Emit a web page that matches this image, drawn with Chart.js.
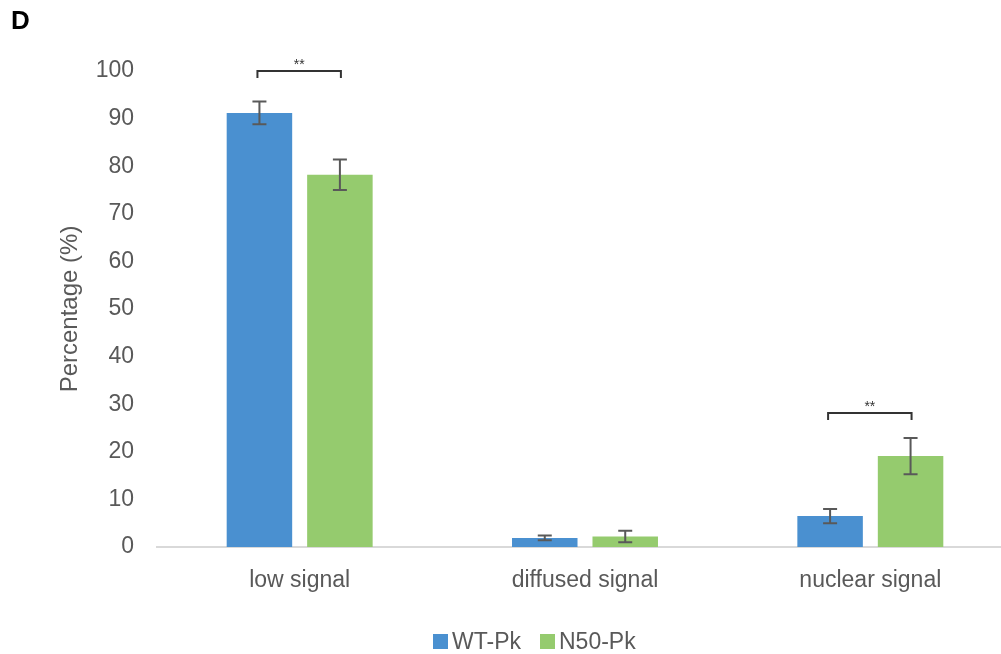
<!DOCTYPE html>
<html>
<head>
<meta charset="utf-8">
<script src="https://cdn.jsdelivr.net/npm/chart.js@4.4.1/dist/chart.umd.min.js"></script>
<style>
  html, body { margin: 0; padding: 0; background: #fff; overflow: hidden; width: 1001px; height: 654px; }
  #wrap { position: relative; width: 1015px; height: 654px; }
  #panel { position: absolute; left: 11px; top: 5px; font: bold 26px "Liberation Sans", Arial, sans-serif; color: #000; }
  #legend { position: absolute; top: 627px; left: 433px; height: 28px; font: 23px "Liberation Sans", Arial, sans-serif; color: #595959; display: flex; align-items: center; }
  #legend .item { display: flex; align-items: center; margin-right: 19px; }
  #legend .sw { width: 15px; height: 15px; margin-right: 4px; }
</style>
</head>
<body>
<div id="wrap">
  <canvas id="c" width="1015" height="654"></canvas>
  <div id="panel">D</div>
  <div id="legend"></div>
</div>
<script>
// Categories and measured percentages (mean ± error)
const categories = ['low signal', 'diffused signal', 'nuclear signal'];
const seriesNames = ['WT-Pk', 'N50-Pk'];
const seriesColors = ['#4A90D0', '#95CB6E'];
const wtValues  = [91.2, 1.9, 6.5];
const wtErrors  = [2.4, 0.5, 1.5];
const n50Values = [78.2, 2.2, 19.1];
const n50Errors = [3.2, 1.2, 3.8];
const yMin = 0, yMax = 100, yStep = 10;

// Significance brackets: category index, bracket height (%), label
const sigIndex = [0, 2];
const sigLevel = [100.1, 28.2];
const sigLabel = ['**', '**'];

const textColor = '#595959';
const fontFamily = '"Liberation Sans", Arial, sans-serif';

// HTML legend
const legendEl = document.getElementById('legend');
seriesNames.forEach((name, i) => {
  const item = document.createElement('div');
  item.className = 'item';
  const sw = document.createElement('span');
  sw.className = 'sw';
  sw.style.background = seriesColors[i];
  const label = document.createElement('span');
  label.textContent = name;
  item.appendChild(sw);
  item.appendChild(label);
  legendEl.appendChild(item);
});

const errorBars = {
  id: 'errorBars',
  afterDatasetsDraw(chart) {
    const ctx = chart.ctx;
    const y = chart.scales.y;
    ctx.save();
    ctx.strokeStyle = '#595959';
    ctx.lineWidth = 2;
    chart.data.datasets.forEach((ds, di) => {
      const meta = chart.getDatasetMeta(di);
      meta.data.forEach((bar, i) => {
        const v = ds.data[i], e = ds.errors[i];
        const yt = y.getPixelForValue(v + e);
        const yb = y.getPixelForValue(v - e);
        const x = bar.x;
        ctx.beginPath();
        ctx.moveTo(x, yt); ctx.lineTo(x, yb);
        ctx.moveTo(x - 7, yt); ctx.lineTo(x + 7, yt);
        ctx.moveTo(x - 7, yb); ctx.lineTo(x + 7, yb);
        ctx.stroke();
      });
    });
    ctx.restore();
  }
};

const sigBrackets = {
  id: 'sigBrackets',
  afterDatasetsDraw(chart) {
    const ctx = chart.ctx;
    const y = chart.scales.y;
    const m0 = chart.getDatasetMeta(0), m1 = chart.getDatasetMeta(1);
    ctx.save();
    ctx.strokeStyle = '#333333';
    ctx.lineWidth = 2;
    ctx.fillStyle = '#333333';
    ctx.font = '14px ' + fontFamily;
    ctx.textAlign = 'center';
    ctx.textBaseline = 'alphabetic';
    sigIndex.forEach((idx, k) => {
      const x1 = m0.data[idx].x - 2;
      const x2 = m1.data[idx].x + 1;
      const yy = Math.round(y.getPixelForValue(sigLevel[k]));
      ctx.beginPath();
      ctx.moveTo(x1, yy + 7);
      ctx.lineTo(x1, yy);
      ctx.lineTo(x2, yy);
      ctx.lineTo(x2, yy + 7);
      ctx.stroke();
      ctx.fillText(sigLabel[k], (x1 + x2) / 2, yy - 2);
    });
    ctx.restore();
  }
};

new Chart(document.getElementById('c'), {
  type: 'bar',
  data: {
    labels: categories,
    datasets: [
      { label: seriesNames[0], data: wtValues, errors: wtErrors, backgroundColor: seriesColors[0],
        categoryPercentage: 0.564, barPercentage: 0.814 },
      { label: seriesNames[1], data: n50Values, errors: n50Errors, backgroundColor: seriesColors[1],
        categoryPercentage: 0.564, barPercentage: 0.814 }
    ]
  },
  options: {
    responsive: false,
    animation: false,
    devicePixelRatio: 1,
    layout: { padding: { top: 71, right: 2, bottom: 0, left: 0 } },
    plugins: { legend: { display: false }, tooltip: { enabled: false } },
    scales: {
      x: {
        grid: { display: false, drawTicks: false },
        border: { display: true, color: '#d9d9d9', width: 2 },
        ticks: { color: textColor, font: { family: fontFamily, size: 23 }, padding: 20 },
        afterFit(scale) { scale.height = 107; }
      },
      y: {
        min: yMin, max: yMax,
        grid: { display: false, drawTicks: false },
        border: { display: false },
        ticks: { stepSize: yStep, color: textColor, font: { family: fontFamily, size: 23 }, padding: 23 },
        title: { display: true, text: 'Percentage (%)', color: textColor,
                 font: { family: fontFamily, size: 24 }, padding: { top: 56, bottom: 0 } },
        afterFit(scale) { scale.width = 157; }
      }
    }
  },
  plugins: [errorBars, sigBrackets]
});
</script>
</body>
</html>
